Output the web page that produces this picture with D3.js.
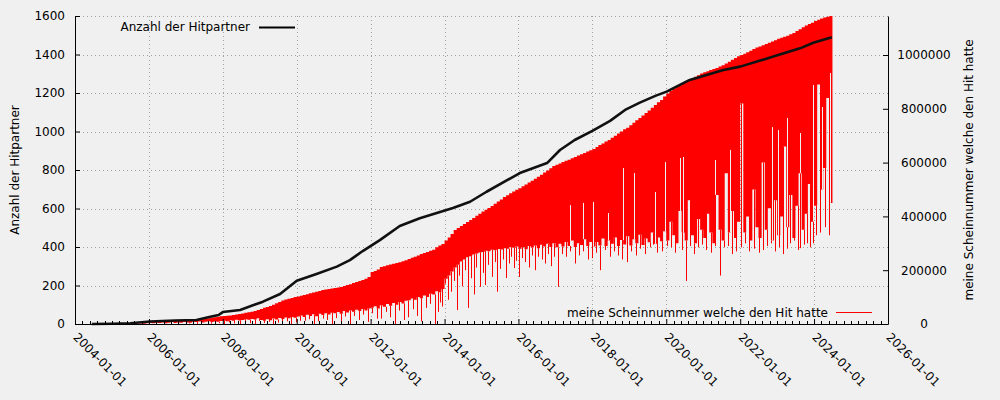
<!DOCTYPE html>
<html><head><meta charset="utf-8">
<script src="https://cdn.jsdelivr.net/npm/d3@7"></script>
<style>
body{margin:0;background:#f0f0f0}
svg{display:block}
text{font-family:"DejaVu Sans",sans-serif;font-size:12px;fill:#000}
</style>
</head><body><svg id="c" width="1000" height="400"></svg>
<script>
// ---------- data ----------
const xTickLabels = ["2004-01-01","2006-01-01","2008-01-01","2010-01-01","2012-01-01","2014-01-01","2016-01-01","2018-01-01","2020-01-01","2022-01-01","2024-01-01","2026-01-01"];
const leftTicks = [0,200,400,600,800,1000,1200,1400,1600];
const rightTicks = [0,200000,400000,600000,800000,1000000];

const hitDates = ["2004-06-15","2005-01-01","2005-07-01","2006-01-10","2006-09-15","2007-04-15","2007-08-20","2007-11-20","2008-01-01","2008-06-20","2009-02-01","2009-07-20","2010-01-01","2010-07-15","2011-02-01","2011-06-10","2011-10-15","2012-04-01","2012-10-15","2013-05-01","2014-03-25","2014-09-10","2015-02-20","2016-01-15","2016-10-10","2017-02-15","2017-07-10","2018-01-01","2018-06-25","2018-11-20","2019-04-15","2019-09-15","2020-01-05","2020-08-20","2021-07-20","2022-01-01","2022-11-25","2023-08-15","2023-12-25","2024-06-25"];
const hitCounts = [0,1,4,13,18,21,36,47,62,73,116,156,225,260,298,332,379,436,509,549,603,635,687,784,836,904,956,1003,1055,1112,1150,1185,1207,1268,1319,1337,1389,1432,1461,1489];

const scheinMonths = [
"2005-07","2005-08","2005-09","2005-10","2005-11","2005-12",
"2006-01","2006-02","2006-03","2006-04","2006-05","2006-06","2006-07","2006-08","2006-09","2006-10","2006-11","2006-12",
"2007-01","2007-02","2007-03","2007-04","2007-05","2007-06","2007-07","2007-08","2007-09","2007-10","2007-11","2007-12",
"2008-01","2008-02","2008-03","2008-04","2008-05","2008-06","2008-07","2008-08","2008-09","2008-10","2008-11","2008-12",
"2009-01","2009-02","2009-03","2009-04","2009-05","2009-06","2009-07","2009-08","2009-09","2009-10","2009-11","2009-12",
"2010-01","2010-02","2010-03","2010-04","2010-05","2010-06","2010-07","2010-08","2010-09","2010-10","2010-11","2010-12",
"2011-01","2011-02","2011-03","2011-04","2011-05","2011-06","2011-07","2011-08","2011-09","2011-10","2011-11","2011-12",
"2012-01","2012-02","2012-03","2012-04","2012-05","2012-06","2012-07","2012-08","2012-09","2012-10","2012-11","2012-12",
"2013-01","2013-02","2013-03","2013-04","2013-05","2013-06","2013-07","2013-08","2013-09","2013-10","2013-11","2013-12",
"2014-01","2014-02","2014-03","2014-04","2014-05","2014-06","2014-07","2014-08","2014-09","2014-10","2014-11","2014-12",
"2015-01","2015-02","2015-03","2015-04","2015-05","2015-06","2015-07","2015-08","2015-09","2015-10","2015-11","2015-12",
"2016-01","2016-02","2016-03","2016-04","2016-05","2016-06","2016-07","2016-08","2016-09","2016-10","2016-11","2016-12",
"2017-01","2017-02","2017-03","2017-04","2017-05","2017-06","2017-07","2017-08","2017-09","2017-10","2017-11","2017-12",
"2018-01","2018-02","2018-03","2018-04","2018-05","2018-06","2018-07","2018-08","2018-09","2018-10","2018-11","2018-12",
"2019-01","2019-02","2019-03","2019-04","2019-05","2019-06","2019-07","2019-08","2019-09","2019-10","2019-11","2019-12",
"2020-01","2020-02","2020-03","2020-04","2020-05","2020-06","2020-07","2020-08","2020-09","2020-10","2020-11","2020-12",
"2021-01","2021-02","2021-03","2021-04","2021-05","2021-06","2021-07","2021-08","2021-09","2021-10","2021-11","2021-12",
"2022-01","2022-02","2022-03","2022-04","2022-05","2022-06","2022-07","2022-08","2022-09","2022-10","2022-11","2022-12",
"2023-01","2023-02","2023-03","2023-04","2023-05","2023-06","2023-07","2023-08","2023-09","2023-10","2023-11","2023-12",
"2024-01","2024-02","2024-03","2024-04","2024-05","2024-06"];

const scheinHigh = [
5600,6200,6800,7400,8000,8700,
9300,9500,9700,9900,10100,10300,10500,10700,10900,11200,11600,12100,
12600,13200,13900,14700,16200,17800,19500,21500,23500,25500,27000,28500,
29700,30800,32000,33500,35500,37500,39500,41500,43500,45500,48500,52000,
56000,60000,63000,67000,72000,77000,82000,87000,91000,94000,97000,100000,
102000,105000,108000,111000,114000,117000,120000,123000,126000,128000,130000,132000,
134000,136000,138000,141000,145000,148000,152000,156000,160000,164000,168000,175000,
193000,197000,203000,212000,215000,218000,221000,224000,227000,230000,233000,237000,
242000,246000,250000,255000,260000,264000,268000,272000,276000,285000,292000,297000,
310000,322000,335000,349000,357000,364000,372000,379000,387000,394000,402000,410000,
418000,425000,431000,439000,447000,455000,463000,472000,479000,486000,493000,499000,
505000,512000,519000,526000,533000,540000,547000,555000,563000,571000,579000,587000,
592000,597000,602000,607000,611000,616000,621000,626000,631000,636000,641000,646000,
651000,658000,665000,671000,678000,684000,692000,700000,708000,716000,724000,730000,
739000,748000,757000,766000,775000,784000,794000,804000,814000,824000,833000,846000,
857000,866000,874000,881000,888000,895000,901000,907000,914000,919000,925000,931000,
936000,940000,944000,948000,952000,957000,962000,968000,975000,982000,989000,995000,
1000000,1005000,1010000,1016000,1022000,1028000,1032000,1036000,1041000,1046000,1050000,1055000,
1060000,1064000,1068000,1072000,1077000,1082000,1089000,1096000,1103000,1110000,1115000,1120000,
1126000,1131000,1136000,1139000,1142000,1145000];

const scheinLow = [
2000,1000,3000,2000,1000,3000,
4000,3000,5000,4000,6000,3000,5000,7000,4000,6000,5000,7000,
6000,5000,8000,7000,9000,6000,8000,10000,7000,9000,8000,11000,
12000,10000,14000,12000,16000,13000,15000,18000,16000,19000,17000,21000,
15000,12000,18000,14000,20000,17000,22000,19000,24000,21000,26000,23000,
28000,32000,26000,34000,30000,36000,29000,38000,33000,40000,35000,42000,
40000,45000,38000,48000,43000,50000,46000,53000,48000,56000,50000,58000,
60000,66000,58000,70000,64000,74000,68000,78000,72000,82000,76000,86000,
88000,95000,90000,100000,96000,106000,100000,112000,110000,122000,118000,130000,
168000,180000,195000,210000,220000,232000,240000,248000,252000,258000,262000,266000,
268000,272000,270000,276000,274000,279000,277000,282000,280000,285000,283000,288000,
280000,286000,278000,290000,284000,292000,282000,295000,288000,298000,286000,300000,
285000,298000,288000,305000,290000,310000,286000,300000,294000,315000,290000,305000,
288000,305000,292000,318000,290000,310000,298000,322000,290000,312000,296000,326000,
292000,315000,300000,332000,294000,318000,304000,340000,298000,322000,308000,345000,
310000,380000,330000,300000,420000,340000,310000,460000,330000,300000,390000,350000,
320000,410000,340000,300000,480000,350000,310000,560000,340000,420000,320000,380000,
820000,340000,400000,310000,500000,360000,320000,600000,350000,430000,310000,460000,
330000,400000,660000,360000,480000,320000,440000,560000,350000,410000,520000,380000,
440000,890000,500000,580000,840000,450000];

// single low hits (thin lines below the band)
const spikeDates = [
"2007-02-05","2007-04-20","2007-06-30","2007-09-10","2007-11-25",
"2008-01-15","2008-03-05","2008-04-25","2008-06-20","2008-08-10","2008-09-28","2008-11-15","2008-12-28",
"2009-02-10","2009-03-30","2009-05-15","2009-06-30","2009-08-12","2009-09-25","2009-11-08","2009-12-20",
"2010-02-05","2010-03-20","2010-05-05","2010-06-18","2010-08-01","2010-09-15","2010-10-30","2010-12-12",
"2011-01-25","2011-03-10","2011-04-25","2011-06-08","2011-07-22","2011-09-05","2011-10-20","2011-12-02",
"2012-01-15","2012-03-01","2012-04-15","2012-05-30","2012-07-12","2012-08-25","2012-10-08","2012-11-22",
"2013-01-05","2013-02-18","2013-04-03","2013-05-17","2013-07-01","2013-08-14","2013-09-28","2013-10-25","2013-11-12","2013-12-10",
"2014-01-10","2014-02-05","2014-03-05","2014-04-02","2014-05-01","2014-05-28","2014-06-25","2014-07-22","2014-08-22","2014-09-18","2014-10-15","2014-11-12","2014-12-16",
"2015-01-12","2015-02-06","2015-03-10","2015-04-16","2015-05-12","2015-06-03","2015-07-05","2015-08-02","2015-08-28","2015-09-25","2015-10-20","2015-11-15","2015-12-12",
"2016-01-08","2016-02-08","2016-03-10","2016-04-10","2016-05-10","2016-06-13","2016-07-15","2016-08-22","2016-09-20","2016-10-20","2016-11-15","2016-12-15",
"2017-01-26","2017-03-05","2017-04-16","2017-05-25","2017-07-13","2017-08-25","2017-10-05","2017-11-15","2017-12-28",
"2018-02-05","2018-03-17","2018-05-01","2018-06-24","2018-08-05","2018-09-12","2018-10-25","2018-12-09",
"2019-01-20","2019-03-07","2019-04-20","2019-06-07","2019-07-20","2019-08-22","2019-10-05","2019-11-20",
"2020-01-05","2020-02-14","2020-03-25","2020-04-27","2020-06-05","2020-07-19","2020-08-25","2020-10-01","2020-11-10","2020-12-20",
"2021-02-01","2021-03-18","2021-05-01","2021-06-18","2021-07-25","2021-09-02","2021-10-15","2021-11-22",
"2022-01-10","2022-02-18","2022-03-30","2022-05-19","2022-07-01","2022-08-15","2022-09-25","2022-11-03","2022-12-10",
"2023-01-19","2023-03-01","2023-04-05","2023-05-10","2023-06-18","2023-07-25","2023-08-15","2023-09-20","2023-10-23","2023-11-25","2023-12-20",
"2024-01-25","2024-02-28","2024-04-20","2024-05-25"];
const spikeValues = [
2000,0,5000,1000,3000,
0,6000,2000,0,9000,3000,0,11000,
4000,8000,0,5000,8000,10000,0,6000,
12000,12000,18000,0,10000,20000,15000,0,
22000,10000,28000,0,30000,15000,35000,8000,
40000,20000,20000,45000,25000,0,50000,15000,
25000,55000,30000,10000,60000,75000,0,45000,80000,65000,
150000,90000,120000,160000,52000,180000,140000,200000,60000,170000,110000,210000,138000,
190000,145000,220000,175000,230000,120000,205000,240000,171000,225000,250000,208000,235000,
175000,245000,230000,210000,255000,200000,250000,240000,225000,260000,215000,250000,
138000,260000,250000,270000,225000,255000,270000,240000,245000,
265000,200000,275000,250000,270000,255000,240000,230000,
270000,255000,280000,260000,285000,295000,265000,270000,
290000,285000,265000,300000,275000,160000,290000,260000,285000,295000,
275000,265000,290000,180000,285000,290000,260000,270000,
285000,300000,270000,280000,265000,275000,290000,300000,270000,
285000,260000,280000,300000,310000,275000,282000,295000,300000,285000,300000,
330000,340000,360000,330000];

// columns whose lowest hit was high (thin empty slits inside the band)
const slitDates = ["2017-05-26","2017-10-01","2018-01-08","2018-06-03","2018-10-30","2019-02-16","2019-09-12","2019-12-20","2020-05-15","2020-06-14","2021-04-27","2021-09-24","2022-11-07","2023-01-10","2023-04-06","2023-08-15","2023-12-25","2024-03-17","2024-06-06"];
const slitValues = [442000,450000,453500,412600,580000,561000,490700,602000,617000,620800,609700,647000,732000,721000,766000,710000,888500,806700,933000];

const legendHits = "Anzahl der Hitpartner";
const legendSchein = "meine Scheinnummer welche den Hit hatte";
const titleLeft = "Anzahl der Hitpartner";
const titleRight = "meine Scheinnummer welche den Hit hatte";

// ---------- layout ----------
const W = 1000, H = 400;
const L = 75, R = 888, T = 16, B = 324;
const BG = "#f0f0f0";
const parseDay = d3.timeParse("%Y-%m-%d");
const parseMonth = d3.timeParse("%Y-%m");
const fmt = d3.timeFormat("%Y-%m-%d");

const svg = d3.select("#c");
svg.append("rect").attr("width", W).attr("height", H).attr("fill", BG);

const xTicks = xTickLabels.map(parseDay);
const x = d3.scaleTime().domain([xTicks[0], xTicks[xTicks.length - 1]]).range([L, R]);
const yL = d3.scaleLinear().domain([0, 1600]).range([B, T]);
const yR = d3.scaleLinear().domain([0, 1145000]).range([B, T]);

// grid
const grid = svg.append("g").attr("stroke", "#a0a0a0").attr("stroke-width", 1).attr("stroke-dasharray", "1,3");
grid.selectAll("line.h").data(leftTicks.filter(v => v > 0)).join("line")
  .attr("x1", L).attr("x2", R).attr("y1", d => Math.round(yL(d)) + 0.5).attr("y2", d => Math.round(yL(d)) + 0.5);
grid.selectAll("line.v").data(xTicks.slice(1, -1)).join("line")
  .attr("x1", d => Math.round(x(d)) + 0.5).attr("x2", d => Math.round(x(d)) + 0.5).attr("y1", T).attr("y2", B);

// red series: band of monthly hit numbers
const months = scheinMonths.map(parseMonth);
const band = months.map((d, i) => ({d, hi: scheinHigh[i], lo: scheinLow[i]}));
const last = band[band.length - 1];
band.push({d: d3.timeMonth.offset(last.d, 1), hi: last.hi, lo: last.lo});
svg.append("path").datum(band)
  .attr("fill", "#ff0000")
  .attr("d", d3.area().x(d => x(d.d)).y0(d => yR(d.lo)).y1(d => yR(d.hi)).curve(d3.curveStepAfter));

function monthIndex(d) {
  return Math.max(0, Math.min(months.length - 1, d3.timeMonth.count(months[0], d3.timeMonth.floor(d))));
}

// slits
const slits = slitDates.map((s, i) => {
  const d = parseDay(s);
  return {d, v: slitValues[i], lo: scheinLow[monthIndex(d)]};
}).filter(s => s.v > s.lo);
svg.append("g").attr("stroke", BG).attr("stroke-width", 1)
  .selectAll("line").data(slits).join("line")
  .attr("x1", d => Math.round(x(d.d)) + 0.5).attr("x2", d => Math.round(x(d.d)) + 0.5)
  .attr("y1", d => yR(d.v)).attr("y2", d => yR(d.lo));

// spikes
const spikes = spikeDates.map((s, i) => {
  const d = parseDay(s);
  return {d, v: spikeValues[i], top: scheinLow[monthIndex(d)]};
}).filter(s => s.v < s.top);
svg.append("g").attr("stroke", "#ff0000").attr("stroke-width", 1)
  .selectAll("line").data(spikes).join("line")
  .attr("x1", d => Math.round(x(d.d)) + 0.5).attr("x2", d => Math.round(x(d.d)) + 0.5)
  .attr("y1", d => yR(d.v)).attr("y2", d => yR(d.top));

// black line
const hits = hitDates.map((s, i) => ({d: parseDay(s), v: hitCounts[i]}));
svg.append("path").datum(hits)
  .attr("fill", "none").attr("stroke", "#111").attr("stroke-width", 2.6).attr("stroke-linejoin", "round")
  .attr("d", d3.line().x(d => x(d.d)).y(d => yL(d.v)));

// axes
function styleAxis(g) {
  g.attr("font-family", "DejaVu Sans").attr("font-size", 12);
  g.selectAll("path.domain").attr("stroke", "#000");
  g.selectAll(".tick line").attr("stroke", "#000");
  g.selectAll(".tick text").attr("fill", "#000");
}
const gL = svg.append("g").attr("transform", `translate(${L},0)`)
  .call(d3.axisLeft(yL).tickValues(leftTicks).tickSizeInner(-5).tickSizeOuter(0).tickPadding(10).tickFormat(d3.format("d")));
styleAxis(gL);

const gR = svg.append("g").attr("transform", `translate(${R},0)`)
  .call(d3.axisRight(yR).tickValues(rightTicks).tickSizeInner(-5).tickSizeOuter(0).tickFormat(d3.format("d")));
styleAxis(gR);
gR.selectAll(".tick text").attr("x", 36).attr("text-anchor", "middle");

const gB = svg.append("g").attr("transform", `translate(0,${B})`)
  .call(d3.axisBottom(x).tickValues(xTicks).tickSizeInner(-5).tickSizeOuter(0).tickFormat(fmt));
styleAxis(gB);
gB.selectAll(".tick text").attr("x", 0).attr("y", 0).attr("dy", "0.35em")
  .attr("text-anchor", "start").attr("transform", "translate(0,11) rotate(45)");

// minor x ticks (10 per major interval)
const minor = [];
for (let i = 0; i < xTicks.length - 1; i++) {
  const a = x(xTicks[i]), b = x(xTicks[i + 1]);
  for (let k = 1; k < 10; k++) minor.push(a + (b - a) * k / 10);
}
svg.append("g").attr("stroke", "#000").selectAll("line").data(minor).join("line")
  .attr("x1", d => Math.round(d) + 0.5).attr("x2", d => Math.round(d) + 0.5)
  .attr("y1", B).attr("y2", B - 3);

// axis titles
svg.append("text").attr("transform", `translate(19,${(T + B) / 2}) rotate(-90)`)
  .attr("text-anchor", "middle").text(titleLeft);
svg.append("text").attr("transform", `translate(973,${(T + B) / 2}) rotate(-90)`)
  .attr("text-anchor", "middle").text(titleRight);

// legends
svg.append("text").attr("x", 250).attr("y", 27).attr("dy", "0.35em").attr("text-anchor", "end").text(legendHits);
svg.append("line").attr("x1", 259).attr("x2", 295).attr("y1", 27.5).attr("y2", 27.5).attr("stroke", "#000").attr("stroke-width", 2);
svg.append("text").attr("x", 828).attr("y", 312.5).attr("dy", "0.35em").attr("text-anchor", "end").text(legendSchein);
svg.append("line").attr("x1", 836).attr("x2", 872).attr("y1", 312.5).attr("y2", 312.5).attr("stroke", "#ff0000").attr("stroke-width", 1);
</script>
</body></html>
